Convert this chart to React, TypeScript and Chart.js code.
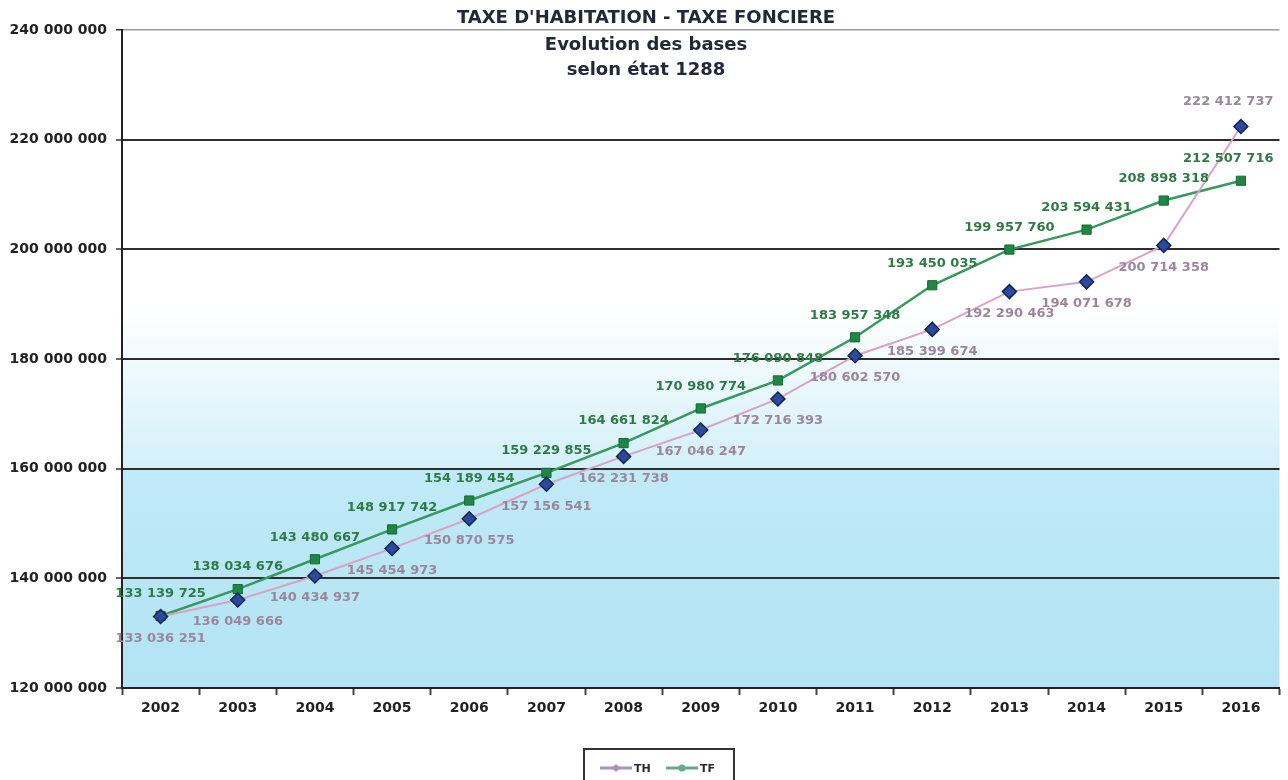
import React, { useEffect, useRef } from 'react';
import { Chart, registerables } from 'chart.js';

Chart.register(...registerables);

// Years on the category axis
const years = ['2002', '2003', '2004', '2005', '2006', '2007', '2008', '2009', '2010', '2011', '2012', '2013', '2014', '2015', '2016'];

// Taxe d'habitation bases
const thValues = [133036251, 136049666, 140434937, 145454973, 150870575, 157156541, 162231738, 167046247, 172716393, 180602570, 185399674, 192290463, 194071678, 200714358, 222412737];

// Taxe foncière bases
const tfValues = [133139725, 138034676, 143480667, 148917742, 154189454, 159229855, 164661824, 170980774, 176090848, 183957348, 193450035, 199957760, 203594431, 208898318, 212507716];

const yMin = 120000000;
const yMax = 240000000;
const yStep = 20000000;

const seriesNames = ['TH', 'TF'];
const titleLines = ["TAXE D'HABITATION - TAXE FONCIERE", 'Evolution des bases', 'selon état 1288'];

const FONT = '"DejaVu Sans", "Liberation Sans", Arial, sans-serif';

const TH_LINE = '#d9a2c6';
const TH_POINT = '#2b4a9c';
const TH_POINT_EDGE = '#122456';
const TH_LABEL = '#9b869d';
const TH_LEGEND = '#a892c2';
const TF_LINE = '#36995d';
const TF_POINT = '#1f8645';
const TF_LABEL = '#2f7a45';
const TF_LEGEND = '#62ad84';

const fmt = (v: number) => Math.round(v).toString().replace(/\B(?=(\d{3})+(?!\d))/g, ' ');

// Plot background: white at the top fading into light sky blue
const backgroundPlugin = {
  id: 'plotBackground',
  beforeDraw(chart: any) {
    const { ctx, chartArea } = chart;
    const { left, top, right, bottom } = chartArea;
    const g = ctx.createLinearGradient(0, top, 0, bottom);
    g.addColorStop(0, '#ffffff');
    g.addColorStop(0.42, '#ffffff');
    g.addColorStop(0.664, '#d3f0f9');
    g.addColorStop(0.668, '#c0eaf7');
    g.addColorStop(1, '#b2e3f4');
    ctx.save();
    ctx.fillStyle = g;
    ctx.fillRect(left, top, right - left, bottom - top);
    ctx.restore();
  },
};

// Value labels: TF above its points, TH below (last TH point labelled above)
const valueLabelsPlugin = {
  id: 'valueLabels',
  afterDatasetsDraw(chart: any) {
    const { ctx, chartArea } = chart;
    ctx.save();
    ctx.font = `bold 13px ${FONT}`;
    ctx.textAlign = 'center';
    ctx.textBaseline = 'middle';
    chart.data.datasets.forEach((ds: any, di: number) => {
      const meta = chart.getDatasetMeta(di);
      const isTH = di === 0;
      meta.data.forEach((pt: any, i: number) => {
        const text = fmt(ds.data[i]);
        const w = ctx.measureText(text).width;
        let x = pt.x;
        const maxRight = chartArea.right - 6;
        if (x + w / 2 > maxRight) x = maxRight - w / 2;
        let y: number;
        if (isTH) {
          y = i === meta.data.length - 1 ? pt.y - 25 : pt.y + 22;
        } else {
          y = pt.y - 22;
        }
        ctx.fillStyle = isTH ? TH_LABEL : TF_LABEL;
        ctx.fillText(text, x, y);
      });
    });
    ctx.restore();
  },
};

// Three-line heading centred on the page
const headingPlugin = {
  id: 'heading',
  afterDraw(chart: any) {
    const { ctx, width } = chart;
    ctx.save();
    ctx.font = `bold 18px ${FONT}`;
    ctx.fillStyle = '#232838';
    ctx.textAlign = 'center';
    ctx.textBaseline = 'middle';
    const cx = width / 2 + 2;
    const ys = [18, 45, 70];
    titleLines.forEach((t, i) => ctx.fillText(t, cx, ys[i]));
    ctx.restore();
  },
};

// Boxed legend under the axis
const legendBoxPlugin = {
  id: 'legendBox',
  afterDraw(chart: any) {
    const { ctx } = chart;
    const bx = 584;
    const by = 749;
    const bw = 150;
    const bh = 40;
    ctx.save();
    ctx.strokeStyle = '#333';
    ctx.lineWidth = 2;
    ctx.strokeRect(bx, by, bw, bh);
    const items = [
      { name: seriesNames[0], color: TH_LEGEND, x: bx + 16, marker: 'diamond' },
      { name: seriesNames[1], color: TF_LEGEND, x: bx + 82, marker: 'circle' },
    ];
    const y = by + 19;
    items.forEach((it) => {
      ctx.strokeStyle = it.color;
      ctx.lineWidth = 3;
      ctx.beginPath();
      ctx.moveTo(it.x, y);
      ctx.lineTo(it.x + 32, y);
      ctx.stroke();
      ctx.fillStyle = it.color;
      ctx.beginPath();
      const mx = it.x + 16;
      if (it.marker === 'diamond') {
        ctx.moveTo(mx, y - 4);
        ctx.lineTo(mx + 4, y);
        ctx.lineTo(mx, y + 4);
        ctx.lineTo(mx - 4, y);
        ctx.closePath();
      } else {
        ctx.arc(mx, y, 3.5, 0, Math.PI * 2);
      }
      ctx.fill();
      ctx.fillStyle = '#2a2a2a';
      ctx.font = `bold 11px ${FONT}`;
      ctx.textAlign = 'left';
      ctx.textBaseline = 'middle';
      ctx.fillText(it.name, it.x + 34, y + 1);
    });
    ctx.restore();
  },
};

export default function App() {
  const canvasRef = useRef<HTMLCanvasElement | null>(null);

  useEffect(() => {
    if (!canvasRef.current) return;
    const chart = new Chart(canvasRef.current, {
      type: 'line',
      data: {
        labels: years,
        datasets: [
          {
            label: seriesNames[0],
            data: thValues,
            borderColor: TH_LINE,
            borderWidth: 2,
            backgroundColor: TH_POINT,
            pointStyle: 'rectRot',
            pointRadius: 7,
            pointBackgroundColor: TH_POINT,
            pointBorderColor: TH_POINT_EDGE,
            pointBorderWidth: 1.5,
            tension: 0,
          },
          {
            label: seriesNames[1],
            data: tfValues,
            borderColor: TF_LINE,
            borderWidth: 2.5,
            backgroundColor: TF_POINT,
            pointStyle: 'rect',
            pointRadius: 6.5,
            pointBackgroundColor: TF_POINT,
            pointBorderColor: '#166a34',
            pointBorderWidth: 1,
            tension: 0,
          },
        ],
      },
      options: {
        responsive: false,
        animation: false,
        layout: { padding: { top: 30, right: 4, left: 0, bottom: 0 } },
        plugins: {
          legend: { display: false },
          title: { display: false },
          tooltip: { enabled: false },
        },
        scales: {
          x: {
            type: 'category',
            offset: true,
            afterFit: (s: any) => {
              s.height = 92;
            },
            grid: {
              display: true,
              drawOnChartArea: false,
              drawTicks: true,
              tickLength: 7,
              tickColor: '#444',
              tickWidth: 2,
              offset: true,
            },
            border: { display: true, color: '#222', width: 2 },
            ticks: {
              color: '#222',
              padding: 5,
              font: { family: FONT, size: 14, weight: 'bold' },
              maxRotation: 0,
              autoSkip: false,
            },
          },
          y: {
            min: yMin,
            max: yMax,
            afterFit: (s: any) => {
              s.width = 122;
            },
            grid: {
              color: (c: any) => (c.tick && c.tick.value === yMax ? '#9a9a9a' : '#2e2e2e'),
              lineWidth: (c: any) => (c.tick && c.tick.value === yMax ? 1.5 : 2),
              tickLength: 6,
              tickColor: '#333',
              tickWidth: 1.5,
            },
            border: { display: true, color: '#222', width: 2 },
            ticks: {
              stepSize: yStep,
              color: '#222',
              padding: 9,
              font: { family: FONT, size: 14, weight: 'bold' },
              callback: (v: any) => fmt(Number(v)),
            },
          },
        },
      },
      plugins: [backgroundPlugin, valueLabelsPlugin, headingPlugin, legendBoxPlugin],
    } as any);
    return () => chart.destroy();
  }, []);

  return (
    <div style={{ position: 'fixed', left: 0, top: 0, width: 1288, height: 780, background: '#fff' }}>
      <canvas ref={canvasRef} width={1288} height={780} style={{ display: 'block' }} />
    </div>
  );
}
